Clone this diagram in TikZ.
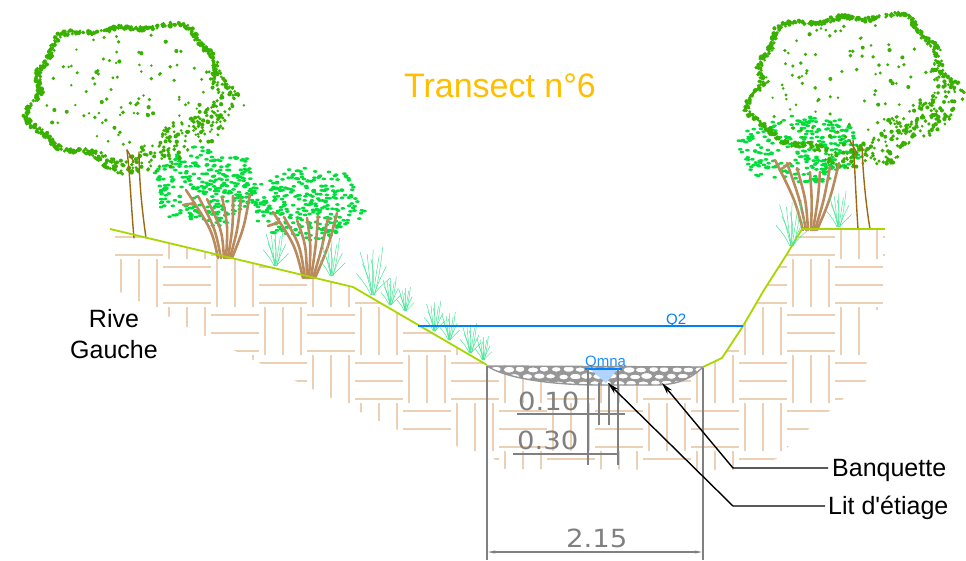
\documentclass[tikz,border=0pt]{standalone}
\usepackage{fontspec}
\setmainfont{Liberation Sans}
\newfontfamily\dimfont[FakeStretch=1.1]{DejaVu Sans}
\usetikzlibrary{arrows.meta}

\definecolor{groundcol}{RGB}{168,214,0}
\definecolor{hatchcol}{RGB}{236,208,180}
\definecolor{watercol}{RGB}{0,128,255}
\definecolor{qmnafill}{RGB}{176,212,255}
\definecolor{qmnatext}{RGB}{30,140,255}
\definecolor{dimcol}{RGB}{128,128,128}
\definecolor{titlecol}{RGB}{255,190,0}
\definecolor{treecol}{RGB}{56,176,0}
\definecolor{leafcol}{RGB}{0,222,60}
\definecolor{branchcol}{RGB}{186,138,92}
\definecolor{trunkcol}{RGB}{155,105,15}
\definecolor{grasscol}{RGB}{70,228,150}
\definecolor{pebblecol}{RGB}{150,150,150}

\tikzset{
  ground/.style={groundcol, line width=1.8pt, line join=round},
  hatchline/.style={hatchcol, line width=2pt},
  dimline/.style={dimcol, line width=1.5pt},
  leader/.style={black, line width=1.4pt},
  lbl/.style={font=\fontsize{25}{25}\selectfont, inner sep=0pt},
  dimtext/.style={font=\dimfont\fontsize{25}{25}\selectfont, text=dimcol, inner sep=0pt},
  branch/.style={branchcol, line width=2.6pt, line cap=round},
  trunk/.style={trunkcol, line width=1.4pt, line cap=round},
  blade/.style={grasscol, line width=0.5pt},
  tuft/.pic={
    \draw[blade] (0,0) .. controls (-1,-10) .. (-8,-26);
    \draw[blade] (0,0) .. controls (-2,-14) .. (-4,-34);
    \draw[blade] (1,0) .. controls (0,-16) .. (1,-38);
    \draw[blade] (1,0) .. controls (3,-14) .. (6,-33);
    \draw[blade] (2,0) .. controls (5,-10) .. (12,-24);
    \draw[blade] (-1,0) .. controls (-5,-8) .. (-13,-18);
    \draw[blade] (0,0) .. controls (2,-18) .. (-1,-30);
    \draw[blade] (2,0) .. controls (6,-16) .. (9,-40);
    \draw[blade] (1,0) .. controls (8,-8) .. (15,-14);
    \draw[blade] (0,0) .. controls (-4,-16) .. (-10,-36);
  }
}

% dotted tree crown: dense rim (thicker towards the lower right) plus sparse inner dots
\newcommand{\treecrown}[6]{%
  \foreach \k in {1,...,#5}{%
    \pgfmathsetmacro\cAng{360*rnd}%
    \pgfmathsetmacro\cWid{0.06+0.36*max(0,cos(\cAng-45))^2}%
    \pgfmathsetmacro\cRad{(1+0.07*sin(5*\cAng+30)+0.04*sin(11*\cAng+70))*(1-\cWid*rnd)}%
    \pgfmathsetmacro\cDot{1.4+0.8*rnd}%
    \fill[treecol] ({#1+#3*\cRad*cos(\cAng)},{#2+#4*\cRad*sin(\cAng)}) circle[radius=\cDot];%
  }%
  \foreach \k in {1,...,#6}{%
    \pgfmathsetmacro\cAng{360*rnd}%
    \pgfmathsetmacro\cRad{0.85*sqrt(rnd)}%
    \pgfmathsetmacro\cDot{1.3+0.8*rnd}%
    \fill[treecol] ({#1+#3*\cRad*cos(\cAng)},{#2+#4*\cRad*sin(\cAng)}) circle[radius=\cDot];%
  }%
}

% leafy shrub crown
\newcommand{\leafcloud}[5]{%
  \foreach \k in {1,...,#5}{%
    \pgfmathsetmacro\cAng{360*rnd}%
    \pgfmathsetmacro\cRad{sqrt(rnd)*(1+0.08*sin(6*\cAng))}%
    \fill[leafcol] ({#1+#3*\cRad*cos(\cAng)},{#2+#4*\cRad*sin(\cAng)}) ellipse[x radius=2.3, y radius=1.4];%
  }%
}

\begin{document}
\begin{tikzpicture}[x=1pt,y=-1pt]
\useasboundingbox (0,0) rectangle (966,560);
\pgfmathsetseed{4242}

% ---------- soil hatch (basket weave) ----------
\begin{scope}
  \clip (110,229) -- (353,287) -- (487,365) -- (703,367) -- (722,358) -- (743,326)
        -- (764,290) -- (787,254) -- (802,229) -- (885,229) -- (885,309) -- (868,311)
        -- (866,381) -- (843,399) -- (788,447) -- (776,459) -- (740,470) -- (505,469)
        -- (490,455) -- (400,431) -- (300,383) -- (187,327) -- (157,310) -- (110,287) -- cycle;
  \foreach \hr in {0,...,6}{
    \foreach \hc in {0,...,16}{
      \pgfmathtruncatemacro\hpar{mod(\hr+\hc,2)}
      \pgfmathsetmacro\hx{115+48*\hc}
      \pgfmathsetmacro\hy{211+48*\hr}
      \ifnum\hpar=0
        \draw[hatchline] (\hx,\hy+8) -- ++(48,0) (\hx,\hy+26) -- ++(48,0) (\hx,\hy+44) -- ++(48,0);
      \else
        \draw[hatchline] (\hx+6,\hy) -- ++(0,48) (\hx+24,\hy) -- ++(0,48) (\hx+42,\hy) -- ++(0,48);
      \fi
    }
  }
\end{scope}

% ---------- shrubs and trees ----------
\leafcloud{205}{186}{53}{38}{300}
\leafcloud{306}{203}{57}{36}{300}
\leafcloud{800}{148}{62}{34}{300}

\treecrown{132}{96}{104}{74}{720}{100}
\treecrown{853}{88}{104}{76}{720}{100}

% trunks of the two trees
\draw[trunk] (127,150) .. controls (130,175) and (131,205) .. (134,238);
\draw[trunk] (139,152) .. controls (139,180) and (142,210) .. (146,238);
\draw[trunk] (127,150) -- (134,162);
\draw[trunk] (853,140) .. controls (855,170) and (856,200) .. (858,229);
\draw[trunk] (862,147) .. controls (863,175) and (866,205) .. (870,229);
\draw[trunk] (850,141) -- (857,153);

% shrub branches
\draw[branch] (218,258) .. controls (212,230) .. (186,190) (195,203) -- (183,205);
\draw[branch] (221,258) .. controls (215,228) .. (198,196);
\draw[branch] (224,258) .. controls (222,230) .. (207,199);
\draw[branch] (226,258) .. controls (228,226) .. (222,197);
\draw[branch] (228,258) .. controls (233,226) .. (233,196);
\draw[branch] (230,258) .. controls (238,228) .. (241,198);
\draw[branch] (232,258) .. controls (244,228) .. (250,194);

\draw[branch] (303,278) .. controls (295,245) .. (273,212) (280,222) -- (268,226);
\draw[branch] (305,278) .. controls (300,245) .. (284,217);
\draw[branch] (307,278) .. controls (306,245) .. (297,220);
\draw[branch] (309,278) .. controls (311,245) .. (307,218);
\draw[branch] (311,278) .. controls (316,245) .. (318,216);
\draw[branch] (313,278) .. controls (322,248) .. (328,218);
\draw[branch] (315,278) .. controls (328,248) .. (337,213);

\draw[branch] (803,230) .. controls (795,200) .. (775,160) (780,170) -- (790,163);
\draw[branch] (806,230) .. controls (800,200) .. (787,163);
\draw[branch] (808,230) .. controls (806,200) .. (797,168);
\draw[branch] (811,230) .. controls (812,200) .. (810,172);
\draw[branch] (813,230) .. controls (818,200) .. (820,172);
\draw[branch] (815,230) .. controls (824,200) .. (830,167);
\draw[branch] (817,230) .. controls (830,200) .. (839,163);

% ---------- ground profile ----------
\draw[ground] (110,229) -- (353,287) -- (487,365);
\draw[ground] (703,367) -- (722,358) -- (743,326) -- (764,290) -- (787,254) -- (802,229) -- (885,229);

% grass tufts
\pic[scale=0.9] at (275,266) {tuft};
\pic[scale=0.95] at (331,276) {tuft};
\pic[scale=1.2] at (372,295) {tuft};
\pic[scale=0.7] at (390,305) {tuft};
\pic[scale=0.6] at (405,311) {tuft};
\pic[scale=0.75] at (434,331) {tuft};
\pic[scale=0.7] at (449,340) {tuft};
\pic[scale=0.75] at (470,353) {tuft};
\pic[scale=0.6] at (483,360) {tuft};
\pic[scale=1.15] at (791,246) {tuft};
\pic[scale=0.9] at (838,227) {tuft};

% ---------- channel bed (pebbles) ----------
\begin{scope}
  \clip (487,366) -- (703,367) .. controls (690,380) and (675,385) .. (655,385)
        -- (600,385) .. controls (550,385) and (505,378) .. (487,366) -- cycle;
  \fill[pebblecol] (480,360) rectangle (710,390);
  \foreach \py/\off in {369.5/0, 376.5/6, 383.5/2}{
    \foreach \px in {0,...,18}{
      \pgfmathsetmacro\prx{4.8+1.4*rnd}
      \pgfmathsetmacro\pry{2.6+0.7*rnd}
      \filldraw[fill=white, draw=pebblecol, line width=0.8pt]
        ({484+\off+12*\px+2*rnd},{\py+rnd-0.5}) ellipse[x radius=\prx, y radius=\pry];
    }
  }
\end{scope}
\draw[pebblecol, line width=1.4pt, line join=round] (487,366) -- (703,367) .. controls (690,380) and (675,385) .. (655,385)
      -- (600,385) .. controls (550,385) and (505,378) .. (487,366);

% low-flow water
\fill[qmnafill] (590,369) -- (618,369) -- (606,383) -- cycle;
\draw[watercol, line width=1.8pt] (585,369) -- (622,369);
\node[anchor=base west, font=\fontsize{15}{15}\selectfont, text=qmnatext, inner sep=0pt] (qmna) at (585,366) {Qmna};

% two-year flood level
\coordinate (qLeft) at (418,326);
\coordinate (qRight) at (743,326);
\draw[watercol, line width=2.2pt] (qLeft) -- (qRight);
\node[anchor=base west, font=\fontsize{15}{15}\selectfont, text=watercol, inner sep=0pt] (qtwo) at (666,324) {Q2};

% ---------- dimensions ----------
\coordinate (extLtop) at (487,366);
\coordinate (extLbot) at (487,560);
\coordinate (extRtop) at (703,368);
\coordinate (extRbot) at (703,560);
\draw[dimline] (extLtop) -- (extLbot);
\draw[dimline] (extRtop) -- (extRbot);
\coordinate (wL) at (488,552);
\coordinate (wR) at (702,552);
\draw[dimcol, line width=1.2pt, {Stealth[length=7pt,width=3pt]}-{Stealth[length=7pt,width=3pt]}] (wL) -- (wR);
\node[dimtext, anchor=base west] (dimW) at (566,547) {2.15};

\coordinate (aL) at (517,414);
\coordinate (aR) at (625,414);
\draw[dimline] (aL) -- (aR);
\draw[dimline] (599,383) -- (599,425) (609,383) -- (609,425);
\node[dimtext, anchor=base west] (dimA) at (518,410) {0.10};

\coordinate (bL) at (513,454);
\coordinate (bR) at (617,454);
\draw[dimline] (bL) -- (bR);
\draw[dimline] (588,369) -- (588,465) (618,369) -- (618,465);
\node[dimtext, anchor=base west] (dimB) at (517,449) {0.30};

% ---------- labels ----------
\node[anchor=base, font=\fontsize{34}{34}\selectfont, text=titlecol, inner sep=0pt] (title) at (500,97) {Transect n°6};
\node[lbl, anchor=base] (rive) at (114,327) {Rive};
\node[lbl, anchor=base] (gauche) at (114,358) {Gauche};

\node[lbl, anchor=base west] (banq) at (832,476) {Banquette};
\node[lbl, anchor=base west] (lit) at (828,514) {Lit d\textquotesingle étiage};
\coordinate (banqEnd) at (828,468);
\coordinate (banqKnee) at (733,468);
\coordinate (banqTip) at (662,383);
\coordinate (litEnd) at (825,506);
\coordinate (litKnee) at (733,506);
\coordinate (litTip) at (608,383);
\draw[leader, -{Stealth[length=12pt,width=6pt]}] (banqEnd) -- (banqKnee) -- (banqTip);
\draw[leader, -{Stealth[length=12pt,width=6pt]}] (litEnd) -- (litKnee) -- (litTip);
\end{tikzpicture}
\end{document}
